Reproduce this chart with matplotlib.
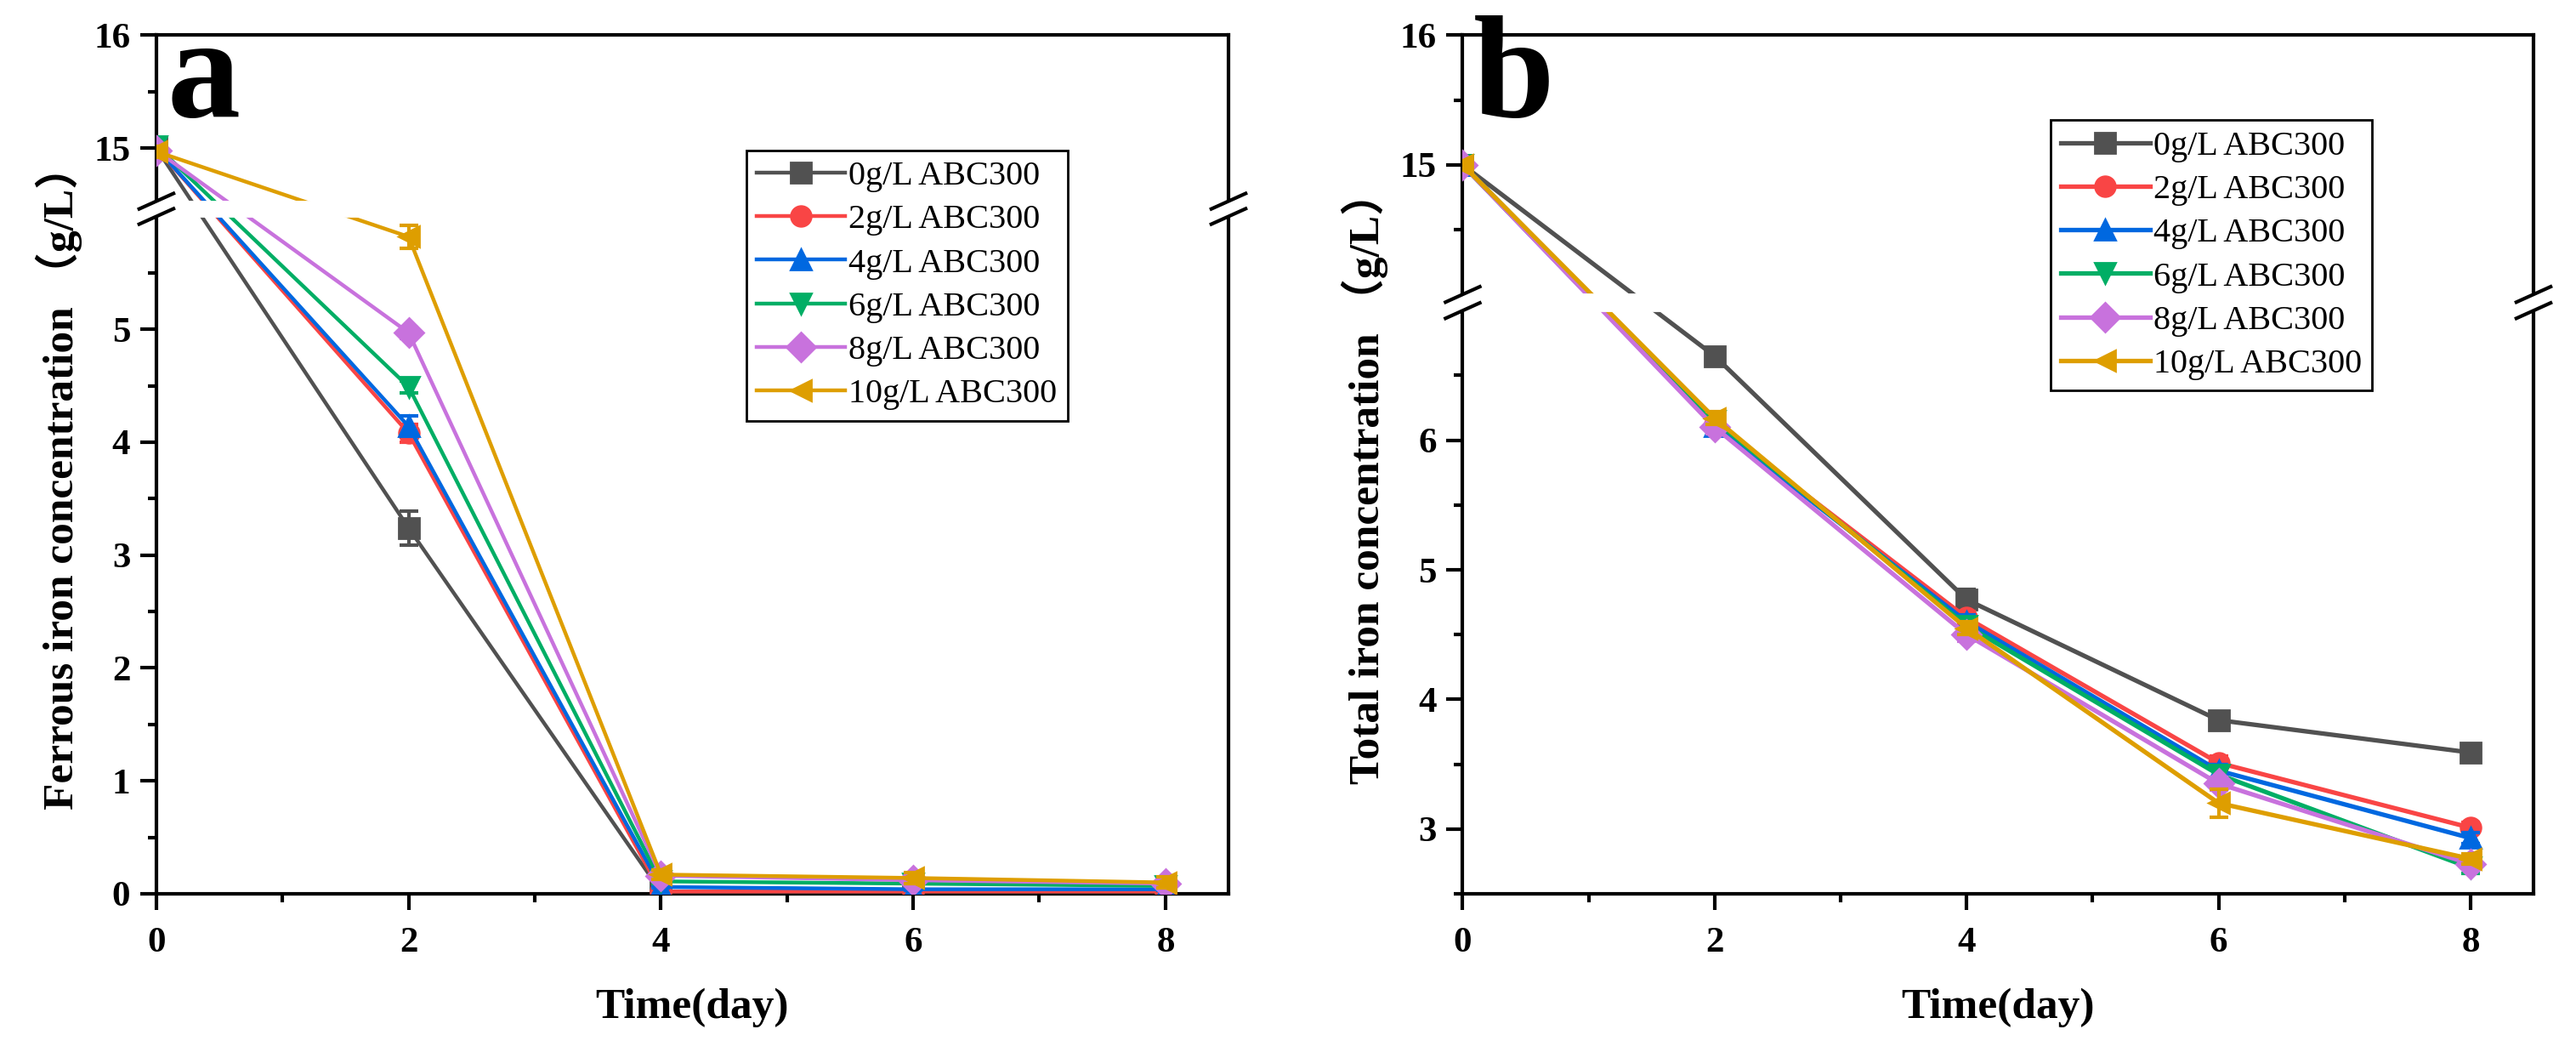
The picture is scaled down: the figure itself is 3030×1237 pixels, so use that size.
import numpy as np
import matplotlib
matplotlib.use('Agg')
import matplotlib.pyplot as plt
from matplotlib.ticker import FixedLocator, NullFormatter

# Fonts: Times-like serif, CJK fallback for the full-width brackets
plt.rcParams['font.family'] = ['Liberation Serif', 'Noto Sans CJK SC']

# ---- data ----
days = [0, 2, 4, 6, 8]
doses = ['0g/L ABC300', '2g/L ABC300', '4g/L ABC300',
         '6g/L ABC300', '8g/L ABC300', '10g/L ABC300']

# (a) ferrous iron, g/L
ferrous_0 = [15.00, 3.24, 0.02, 0.02, 0.02]
ferrous_2 = [15.00, 4.08, 0.02, 0.02, 0.02]
ferrous_4 = [15.00, 4.14, 0.06, 0.04, 0.04]
ferrous_6 = [15.02, 4.49, 0.11, 0.09, 0.07]
ferrous_8 = [14.98, 4.97, 0.16, 0.12, 0.09]
ferrous_10 = [14.97, 5.82, 0.17, 0.14, 0.10]

ferrous_err_0 = [0.05, 0.15, 0.01, 0.01, 0.01]
ferrous_err_2 = [0.05, 0.08, 0.01, 0.01, 0.01]
ferrous_err_4 = [0.05, 0.09, 0.01, 0.01, 0.01]
ferrous_err_6 = [0.05, 0.05, 0.02, 0.01, 0.02]
ferrous_err_8 = [0.05, 0.05, 0.03, 0.03, 0.03]
ferrous_err_10 = [0.05, 0.10, 0.04, 0.05, 0.05]

# (b) total iron, g/L
total_0 = [15.00, 6.65, 4.77, 3.84, 3.59]
total_2 = [15.00, 6.12, 4.63, 3.51, 3.01]
total_4 = [15.00, 6.11, 4.60, 3.45, 2.93]
total_6 = [15.00, 6.15, 4.57, 3.42, 2.70]
total_8 = [15.00, 6.10, 4.50, 3.35, 2.73]
total_10 = [15.00, 6.17, 4.55, 3.20, 2.77]

total_err_0 = [0.03, 0.05, 0.08, 0.06, 0.05]
total_err_2 = [0.03, 0.05, 0.05, 0.05, 0.04]
total_err_4 = [0.03, 0.05, 0.05, 0.05, 0.04]
total_err_6 = [0.03, 0.05, 0.05, 0.05, 0.04]
total_err_8 = [0.03, 0.05, 0.05, 0.05, 0.04]
total_err_10 = [0.03, 0.05, 0.05, 0.11, 0.04]

ferrous = [ferrous_0, ferrous_2, ferrous_4, ferrous_6, ferrous_8, ferrous_10]
ferrous_err = [ferrous_err_0, ferrous_err_2, ferrous_err_4,
               ferrous_err_6, ferrous_err_8, ferrous_err_10]
total = [total_0, total_2, total_4, total_6, total_8, total_10]
total_err = [total_err_0, total_err_2, total_err_4,
             total_err_6, total_err_8, total_err_10]

colors = ['#515151', '#F94545', '#0068E0', '#00AE65', '#C872DD', '#DE9E00']
markers = ['s', 'o', '^', 'v', 'D', '<']


def broken_scale(lo, hi, gap):
    """piecewise y scale that squeezes (lo, hi) into a small gap"""
    shift = hi - lo - gap

    def fwd(y):
        y = np.asarray(y, dtype=float)
        mid = lo + (y - lo) * gap / (hi - lo)
        return np.where(y <= lo, y, np.where(y >= hi, y - shift, mid))

    def inv(t):
        t = np.asarray(t, dtype=float)
        mid = lo + (t - lo) * (hi - lo) / gap
        return np.where(t <= lo, t, np.where(t >= lo + gap, t + shift, mid))

    return fwd, inv


def draw_panel(ax, series, errors, ylim, lo, hi, gap, majors, minors,
               ylabel, letter, legend_xy, lw):
    fwd, inv = broken_scale(lo, hi, gap)
    ax.set_yscale('function', functions=(fwd, inv))

    handles = []
    for vals, errs, c, m, lab in zip(series, errors, colors, markers, doses):
        h, = ax.plot(days, vals, color=c, marker=m, markersize=8.5,
                     linewidth=lw, label=lab, zorder=3)
        ax.errorbar(days, vals, yerr=errs, fmt='none', ecolor=c,
                    elinewidth=1.5, capsize=4, capthick=1.5, zorder=3)
        handles.append(h)

    ax.set_xlim(0, 8.5)
    ax.set_ylim(*ylim)
    ax.set_xticks([0, 2, 4, 6, 8])
    ax.xaxis.set_minor_locator(FixedLocator([1, 3, 5, 7]))
    ax.yaxis.set_major_locator(FixedLocator(majors))
    ax.yaxis.set_minor_locator(FixedLocator(minors))
    ax.yaxis.set_minor_formatter(NullFormatter())
    ax.set_yticklabels([str(v) for v in majors])

    ax.tick_params(which='both', direction='out', width=1.5,
                   top=False, right=False, labelsize=15.5)
    ax.tick_params(which='major', length=7)
    ax.tick_params(which='minor', length=3.5)
    ax.tick_params(axis='x', pad=7)
    ax.tick_params(axis='y', pad=4)
    for lbl in ax.get_xticklabels() + ax.get_yticklabels():
        lbl.set_fontweight('bold')
    for sp in ax.spines.values():
        sp.set_linewidth(1.5)

    ax.set_xlabel('Time(day)', fontsize=18.5, fontweight='bold', labelpad=12)
    ax.set_ylabel(ylabel, fontsize=18.5, fontweight='bold', va='center')
    ax.yaxis.set_label_coords(-0.091, 0.485)

    # white band over the break, then the // marks on both spines
    t0, t1 = fwd(ylim[0]), fwd(ylim[1])
    f_lo = (fwd(lo) - t0) / (t1 - t0)
    f_hi = (fwd(hi) - t0) / (t1 - t0)
    ax.axhspan(lo, hi, color='white', zorder=4)
    dx, dy = 0.016, 0.009
    for x0 in (0, 1):
        ax.fill([x0 - dx, x0 + dx, x0 + dx, x0 - dx],
                [f_lo - dy, f_lo + dy, f_hi + dy, f_hi - dy],
                color='white', transform=ax.transAxes, clip_on=False, zorder=10)
        for fy in (f_lo, f_hi):
            ax.plot([x0 - dx, x0 + dx], [fy - dy, fy + dy], color='black',
                    linewidth=1.5, transform=ax.transAxes, clip_on=False,
                    zorder=11)

    ax.text(0.01, 0.905, letter, transform=ax.transAxes, fontsize=62,
            fontweight='bold', va='baseline', ha='left')

    leg = ax.legend(handles=handles, loc='upper left', bbox_to_anchor=legend_xy,
                    borderaxespad=0, fancybox=False, edgecolor='black',
                    framealpha=1, fontsize=14.5, handlelength=2.6,
                    handletextpad=0.1, labelspacing=0.35, borderpad=0.3)
    leg.get_frame().set_linewidth(1.0)
    leg.set_zorder(12)


fig = plt.figure(figsize=(15.15, 6.185), dpi=200)
ax_a = fig.add_axes([0.0607, 0.1504, 0.4162, 0.8161])
ax_b = fig.add_axes([0.5678, 0.1504, 0.4157, 0.8161])

draw_panel(ax_a, ferrous, ferrous_err, (0, 16), 6.0, 14.53, 0.135,
           [0, 1, 2, 3, 4, 5, 15, 16], [0.5, 1.5, 2.5, 3.5, 4.5, 5.5, 15.5],
           'Ferrous iron concentration （g/L）', 'a', (0.55, 0.866), 1.6)
draw_panel(ax_b, total, total_err, (2.5, 16), 7.0, 14.0, 0.125,
           [3, 4, 5, 6, 15, 16], [2.5, 3.5, 4.5, 5.5, 6.5, 14.5, 15.5],
           'Total iron concentration （g/L）', 'b', (0.549, 0.901), 1.9)

fig.savefig('out.png', dpi=200)
